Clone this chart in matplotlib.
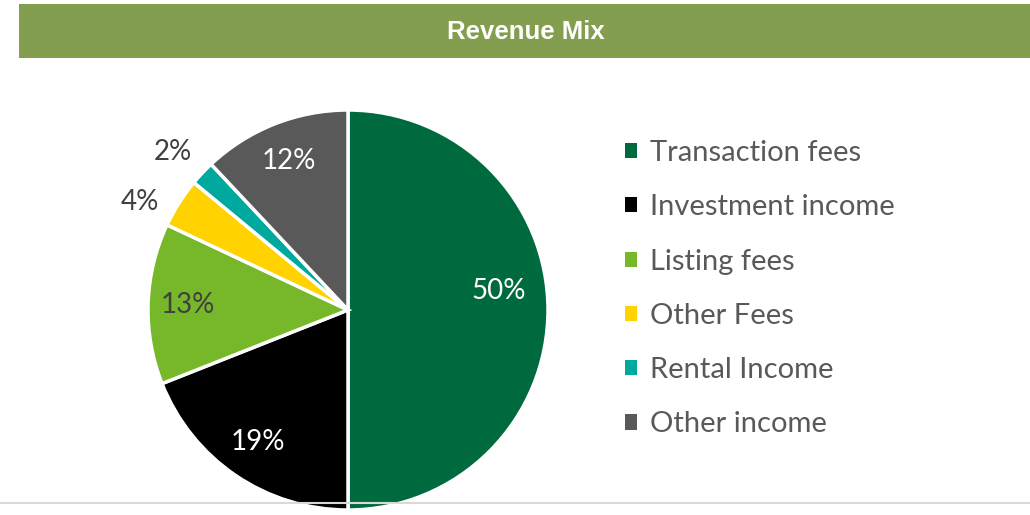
import numpy as np
import matplotlib
matplotlib.use("Agg")
import matplotlib.pyplot as plt
from matplotlib.patches import Rectangle, Patch
from matplotlib.lines import Line2D

categories = ["Transaction fees", "Investment income", "Listing fees",
              "Other Fees", "Rental Income", "Other income"]
shares = [50, 19, 13, 4, 2, 12]
colors = ["#006A3F", "#000000", "#76B82A", "#FFD200", "#00A99D", "#595959"]
label_colors = ["white", "white", "#404040", "#404040", "#404040", "white"]
label_radius = [0.76, 0.80, 0.80, 1.17, 1.18, 0.80]
label_turn = [7, 0, 0, 5, 1.2, 0]  # degrees nudged anticlockwise
title = "Revenue Mix"

W, H = 1030, 515
fig = plt.figure(figsize=(W / 100, H / 100), dpi=100)
fig.patch.set_facecolor("white")

font = "Lato"
text_grey = "#595959"

# header band
fig.patches.append(Rectangle((19 / W, 1 - 58 / H), (W - 19) / W, 54 / H,
                             transform=fig.transFigure, facecolor="#839E4E",
                             edgecolor="none", zorder=0))
fig.text(526 / W, 1 - 32 / H, title, ha="center", va="center",
         color="white", fontsize=18.5, fontweight="bold",
         family="Liberation Sans")

# thin rule along the bottom
fig.lines.append(Line2D([0, 1], [1 - 503 / H, 1 - 503 / H],
                        transform=fig.transFigure, color="#D9D9D9",
                        linewidth=1.5, zorder=0))

# pie
cx, cy, r = 348, 310, 200
ax = fig.add_axes([(cx - r) / W, (H - cy - r) / H, 2 * r / W, 2 * r / H])
wedges, _ = ax.pie(shares, colors=colors, startangle=90, counterclock=False,
                   radius=1, center=(0, 0),
                   wedgeprops=dict(edgecolor="white", linewidth=2.5))
ax.set_xlim(-1, 1)
ax.set_ylim(-1, 1)
ax.axis("off")
for w in wedges:
    w.set_clip_on(False)

for w, val, lc, lr, lt in zip(wedges, shares, label_colors, label_radius,
                              label_turn):
    mid = np.deg2rad((w.theta1 + w.theta2) / 2 + lt)
    ax.text(lr * np.cos(mid), lr * np.sin(mid), f"{val}%", ha="center",
            va="center", color=lc, fontsize=20, family=font, clip_on=False)

handles = [Patch(facecolor=c, edgecolor="none") for c in colors]
leg = fig.legend(handles, categories, loc="upper left",
                 bbox_to_anchor=(625 / W, 1 - 140 / H), frameon=False,
                 prop=dict(family=font, size=21), labelcolor=text_grey,
                 handlelength=0.42, handleheight=0.42, handletextpad=0.42,
                 labelspacing=0.97, borderpad=0, borderaxespad=0)

fig.savefig("out.png", dpi=100, facecolor="white")
